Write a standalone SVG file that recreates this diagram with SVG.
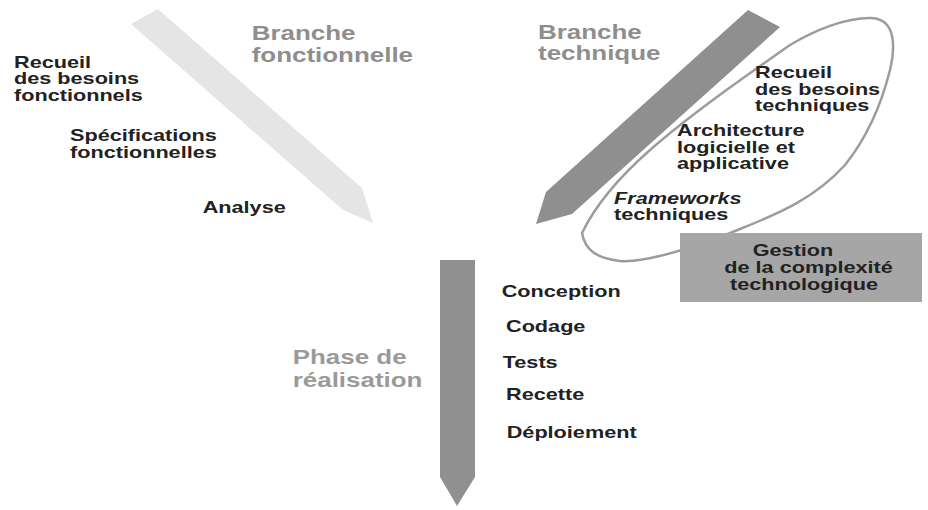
<svg xmlns="http://www.w3.org/2000/svg" width="928" height="510" viewBox="0 0 928 510">
<style>
.t{font-family:"Liberation Sans",Arial,sans-serif;font-weight:bold;font-size:16.3px;fill:#222}
.h{font-family:"Liberation Sans",Arial,sans-serif;font-weight:bold;font-size:19.5px;fill:#8e8e8e}
.i{font-style:italic}
</style>
<rect width="928" height="510" fill="#fff"/>
<g id="ellipse">
<path d="M582,233 C585,250 596,258 620,261 C645,263 700,246 740,229 C780,213 815,198 845,165 C865,140 880,110 890,70 C898,35 890,18 870,18 C845,18 815,30 790,45 C740,80 690,115 650,150 C625,172 598,200 582,233 Z" fill="none" stroke="#9c9c9c" stroke-width="2.5"/>
</g>
<g id="connectors">
<polygon id="branche-fonctionnelle-arrow" points="131,24 158,9 362,188 373,223 343,210" fill="#e5e5e5"/>
<polygon id="branche-technique-arrow" points="748,10 780,27 572,214 536,224 546,192" fill="#8f8f8f"/>
<polygon id="realisation-arrow" points="440,260 475,260 475,477 457,506 440,477" fill="#909090"/>
</g>
<g id="gestion">
<rect x="680" y="233" width="242" height="69" fill="#a6a6a6"/>
<text class="t" transform="matrix(1.33 0 0 1 752.7 256)">Gestion</text>
<text class="t" transform="matrix(1.33 0 0 1 724.3 273)">de la complexité</text>
<text class="t" transform="matrix(1.33 0 0 1 730 289.5)">technologique</text>
</g>
<g id="headers">
<text class="h" transform="matrix(1.33 0 0 1 251.7 40)">Branche</text>
<text class="h" transform="matrix(1.33 0 0 1 251.7 62)">fonctionnelle</text>
<text class="h" transform="matrix(1.33 0 0 1 538 38.5)">Branche</text>
<text class="h" transform="matrix(1.33 0 0 1 538 60)">technique</text>
<text class="h" transform="matrix(1.33 0 0 1 292.7 364)" style="fill:#9a9a9a">Phase de</text>
<text class="h" transform="matrix(1.33 0 0 1 292.7 386.5)" style="fill:#9a9a9a">réalisation</text>
</g>
<g id="fonctionnel">
<text class="t" transform="matrix(1.33 0 0 1 14 67.5)">Recueil</text>
<text class="t" transform="matrix(1.33 0 0 1 14 84)">des besoins</text>
<text class="t" transform="matrix(1.33 0 0 1 14 100.5)">fonctionnels</text>
<text class="t" transform="matrix(1.33 0 0 1 70 141)">Spécifications</text>
<text class="t" transform="matrix(1.33 0 0 1 70 157.5)">fonctionnelles</text>
<text class="t" transform="matrix(1.33 0 0 1 202.7 212.7)">Analyse</text>
</g>
<g id="technique">
<text class="t" transform="matrix(1.33 0 0 1 755 78)">Recueil</text>
<text class="t" transform="matrix(1.33 0 0 1 755 94.5)">des besoins</text>
<text class="t" transform="matrix(1.33 0 0 1 755 111)">techniques</text>
<text class="t" transform="matrix(1.33 0 0 1 677 136)">Architecture</text>
<text class="t" transform="matrix(1.33 0 0 1 677 152.5)">logicielle et</text>
<text class="t" transform="matrix(1.33 0 0 1 677 169)">applicative</text>
<text class="t i" transform="matrix(1.33 0 0 1 614 203.5)">Frameworks</text>
<text class="t" transform="matrix(1.33 0 0 1 614 219.5)">techniques</text>
</g>
<g id="realisation">
<text class="t" transform="matrix(1.33 0 0 1 501.7 296.7)">Conception</text>
<text class="t" transform="matrix(1.33 0 0 1 506 331.7)">Codage</text>
<text class="t" transform="matrix(1.33 0 0 1 502.7 368.3)">Tests</text>
<text class="t" transform="matrix(1.33 0 0 1 506 400)">Recette</text>
<text class="t" transform="matrix(1.33 0 0 1 506.7 438.3)">Déploiement</text>
</g>
</svg>
